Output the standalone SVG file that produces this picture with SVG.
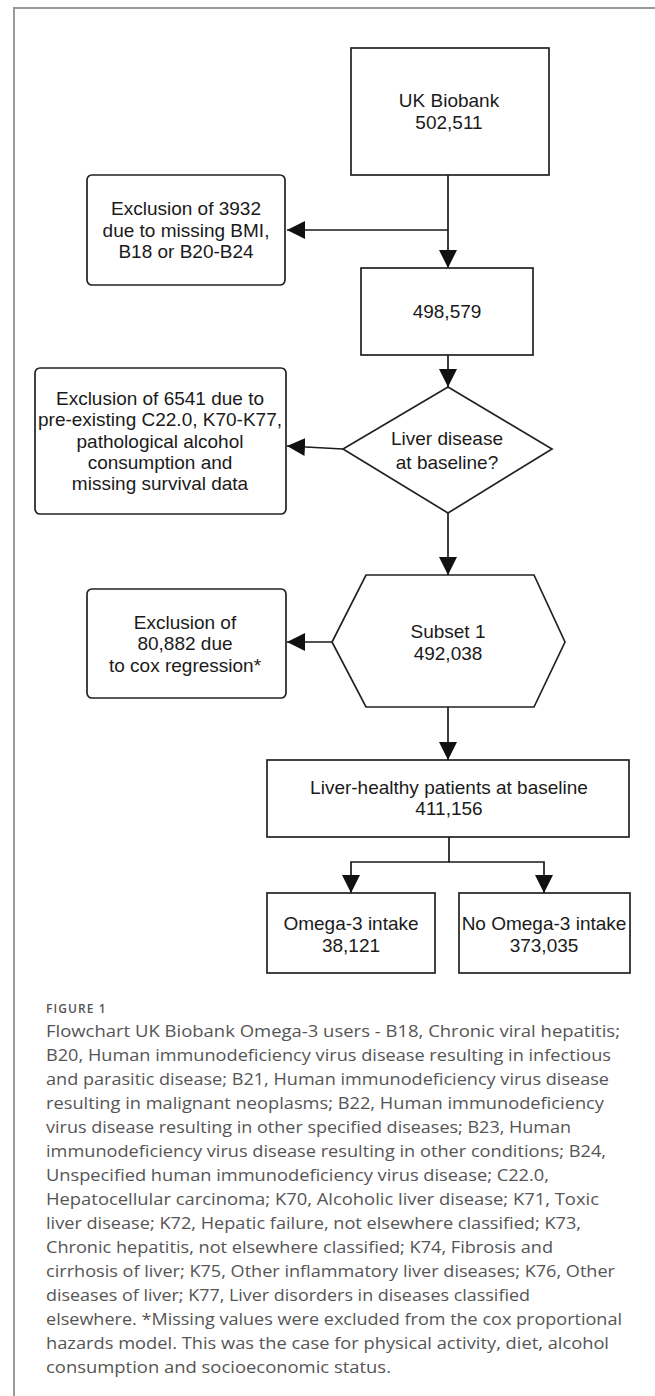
<svg xmlns="http://www.w3.org/2000/svg" width="655" height="1396" viewBox="0 0 655 1396">
<style>
.box{fill:#fff;stroke:#222;stroke-width:1.7}
.lbl{font-family:"Liberation Sans",Arial,sans-serif;font-size:19px;fill:#1a1a1a;text-anchor:middle}
.conn{fill:none;stroke:#1a1a1a;stroke-width:1.7}
.cap{font-family:"Open Sans","DejaVu Sans",sans-serif;font-size:15.5px;fill:#555}
.fig{font-family:"Open Sans","DejaVu Sans",sans-serif;font-size:12px;font-weight:600;fill:#555;letter-spacing:1.1px}
</style>
<defs>
<marker id="ah" viewBox="0 0 18 18" refX="18" refY="9" markerWidth="18" markerHeight="18" markerUnits="userSpaceOnUse" orient="auto">
<path d="M0,0 L18,9 L0,18 Z" fill="#111"/>
</marker>
</defs>
<rect width="655" height="1396" fill="#fff"/>
<path d="M14,1396 V8 H655" fill="none" stroke="#999" stroke-width="2"/>

<g id="connectors">
<path class="conn" d="M448,175 V268" marker-end="url(#ah)"/>
<path class="conn" d="M448,230 H287" marker-end="url(#ah)"/>
<path class="conn" d="M448,355 V387" marker-end="url(#ah)"/>
<path class="conn" d="M343,449 L287,446" marker-end="url(#ah)"/>
<path class="conn" d="M448,513 V575" marker-end="url(#ah)"/>
<path class="conn" d="M332,642 H287" marker-end="url(#ah)"/>
<path class="conn" d="M448,707 V760" marker-end="url(#ah)"/>
<path class="conn" d="M449,837 V862 H351 V893" marker-end="url(#ah)"/>
<path class="conn" d="M449,862 H544 V893" marker-end="url(#ah)"/>
</g>

<g id="n-ukbiobank">
<rect class="box" x="351" y="48" width="198" height="127"/>
<text class="lbl" x="449" y="107">UK Biobank</text>
<text class="lbl" x="449" y="129">502,511</text>
</g>

<g id="n-excl1">
<rect class="box" x="87" y="175" width="198" height="110" rx="5"/>
<text class="lbl" x="186" y="215">Exclusion of 3932</text>
<text class="lbl" x="186" y="237">due to missing BMI,</text>
<text class="lbl" x="186" y="258">B18 or B20-B24</text>
</g>

<g id="n-498579">
<rect class="box" x="361" y="268" width="172" height="87"/>
<text class="lbl" x="447" y="318">498,579</text>
</g>

<g id="n-liverdisease">
<polygon class="box" points="448,387 552,449 448,513 343,449"/>
<text class="lbl" x="447" y="445">Liver disease</text>
<text class="lbl" x="447" y="469">at baseline?</text>
</g>

<g id="n-excl2">
<rect class="box" x="35" y="368" width="251" height="146" rx="5"/>
<text class="lbl" x="160" y="405">Exclusion of 6541 due to</text>
<text class="lbl" x="160" y="426">pre-existing C22.0, K70-K77,</text>
<text class="lbl" x="160" y="448">pathological alcohol</text>
<text class="lbl" x="160" y="469">consumption and</text>
<text class="lbl" x="160" y="490">missing survival data</text>
</g>

<g id="n-subset1">
<polygon class="box" points="366,575 534,575 565,642 534,707 366,707 332,642"/>
<text class="lbl" x="448" y="638">Subset 1</text>
<text class="lbl" x="448" y="660">492,038</text>
</g>

<g id="n-excl3">
<rect class="box" x="87" y="589" width="199" height="109" rx="5"/>
<text class="lbl" x="185" y="629">Exclusion of</text>
<text class="lbl" x="185" y="650">80,882 due</text>
<text class="lbl" x="185" y="672">to cox regression*</text>
</g>

<g id="n-liverhealthy">
<rect class="box" x="267" y="760" width="362" height="77"/>
<text class="lbl" x="449" y="794">Liver-healthy patients at baseline</text>
<text class="lbl" x="449" y="815">411,156</text>
</g>

<g id="n-omega">
<rect class="box" x="267" y="893" width="168" height="80"/>
<text class="lbl" x="351" y="930">Omega-3 intake</text>
<text class="lbl" x="351" y="952">38,121</text>
</g>

<g id="n-noomega">
<rect class="box" x="459" y="893" width="171" height="80"/>
<text class="lbl" x="544" y="930">No Omega-3 intake</text>
<text class="lbl" x="544" y="952">373,035</text>
</g>

<g id="caption">
<text class="fig" x="46" y="1013">FIGURE 1</text>
<text class="cap" x="46" y="1037" textLength="574" lengthAdjust="spacingAndGlyphs">Flowchart UK Biobank Omega-3 users - B18, Chronic viral hepatitis;</text>
<text class="cap" x="46" y="1061" textLength="565" lengthAdjust="spacingAndGlyphs">B20, Human immunodeficiency virus disease resulting in infectious</text>
<text class="cap" x="46" y="1085" textLength="563" lengthAdjust="spacingAndGlyphs">and parasitic disease; B21, Human immunodeficiency virus disease</text>
<text class="cap" x="46" y="1109" textLength="558" lengthAdjust="spacingAndGlyphs">resulting in malignant neoplasms; B22, Human immunodeficiency</text>
<text class="cap" x="46" y="1133" textLength="525" lengthAdjust="spacingAndGlyphs">virus disease resulting in other specified diseases; B23, Human</text>
<text class="cap" x="46" y="1157" textLength="560" lengthAdjust="spacingAndGlyphs">immunodeficiency virus disease resulting in other conditions; B24,</text>
<text class="cap" x="46" y="1181" textLength="503" lengthAdjust="spacingAndGlyphs">Unspecified human immunodeficiency virus disease; C22.0,</text>
<text class="cap" x="46" y="1205" textLength="553" lengthAdjust="spacingAndGlyphs">Hepatocellular carcinoma; K70, Alcoholic liver disease; K71, Toxic</text>
<text class="cap" x="46" y="1229" textLength="535" lengthAdjust="spacingAndGlyphs">liver disease; K72, Hepatic failure, not elsewhere classified; K73,</text>
<text class="cap" x="46" y="1253" textLength="507" lengthAdjust="spacingAndGlyphs">Chronic hepatitis, not elsewhere classified; K74, Fibrosis and</text>
<text class="cap" x="46" y="1277" textLength="569" lengthAdjust="spacingAndGlyphs">cirrhosis of liver; K75, Other inflammatory liver diseases; K76, Other</text>
<text class="cap" x="46" y="1301" textLength="484" lengthAdjust="spacingAndGlyphs">diseases of liver; K77, Liver disorders in diseases classified</text>
<text class="cap" x="46" y="1325" textLength="576" lengthAdjust="spacingAndGlyphs">elsewhere. *Missing values were excluded from the cox proportional</text>
<text class="cap" x="46" y="1349" textLength="563" lengthAdjust="spacingAndGlyphs">hazards model. This was the case for physical activity, diet, alcohol</text>
<text class="cap" x="46" y="1373" textLength="345" lengthAdjust="spacingAndGlyphs">consumption and socioeconomic status.</text>
</g>
</svg>
